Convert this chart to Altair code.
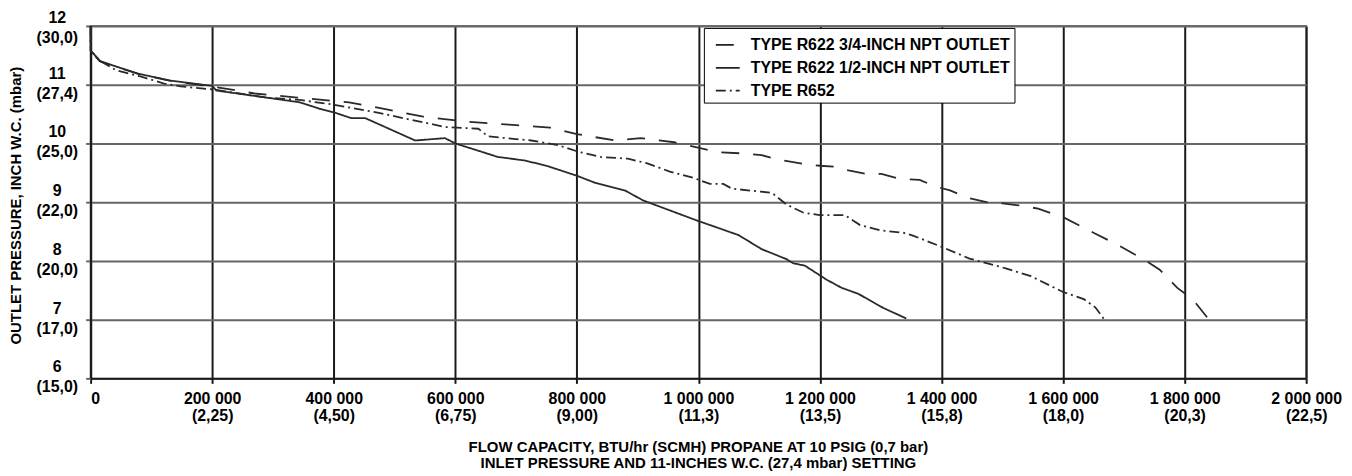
import json
import altair as alt
import pandas as pd

series_names = [
    "TYPE R622 3/4-INCH NPT OUTLET",
    "TYPE R622 1/2-INCH NPT OUTLET",
    "TYPE R652",
]

# TYPE R622 3/4-INCH NPT OUTLET (long dashed)
r622_34_x = [0, 0, 15000, 40000, 80000, 130000, 200000, 270000, 340000, 425000,
             487000, 545000, 618000, 688000, 756000, 800000, 822000, 864000, 905000,
             960000, 1003000, 1034000, 1072000, 1104000, 1134000, 1173000, 1200000,
             1227000, 1247000, 1277000, 1301000, 1331000, 1364000, 1389000, 1414000,
             1444000, 1474000, 1501000, 1531000, 1559000, 1601000, 1650000, 1694000,
             1732000, 1759000, 1788000, 1813000, 1837000]
r622_34_y = [12.0, 11.58, 11.40, 11.31, 11.18, 11.07, 10.97, 10.85, 10.78, 10.70,
             10.58, 10.46, 10.37, 10.32, 10.27, 10.16, 10.12, 10.05, 10.09,
             10.02, 9.92, 9.85, 9.83, 9.80, 9.72, 9.65, 9.62,
             9.60, 9.54, 9.48, 9.48, 9.40, 9.38, 9.27, 9.20,
             9.07, 9.00, 8.98, 8.94, 8.89, 8.74, 8.48, 8.25,
             8.03, 7.85, 7.54, 7.35, 7.04]

# TYPE R622 1/2-INCH NPT OUTLET (solid)
r622_12_x = [0, 0, 16000, 36000, 77000, 131000, 200000, 207000, 269000, 344000,
             377000, 400000, 429000, 452000, 534000, 583000, 600000, 670000, 714000,
             750000, 800000, 830000, 879000, 909000, 997000, 1066000, 1104000,
             1145000, 1156000, 1175000, 1211000, 1236000, 1263000, 1304000, 1342000]
r622_12_y = [12.0, 11.58, 11.40, 11.33, 11.19, 11.07, 10.98, 10.90, 10.81, 10.70,
             10.59, 10.53, 10.43, 10.43, 10.05, 10.09, 10.0, 9.77, 9.71,
             9.62, 9.45, 9.33, 9.20, 9.03, 8.69, 8.44, 8.20,
             8.03, 7.96, 7.92, 7.68, 7.54, 7.44, 7.20, 7.02]

# TYPE R652 (dash-dot)
r652_x = [0, 0, 16000, 41000, 82000, 121000, 148000, 200000, 290000, 344000,
          400000, 474000, 583000, 638000, 654000, 725000, 769000, 802000, 839000,
          884000, 916000, 953000, 993000, 1019000, 1041000, 1055000, 1121000,
          1145000, 1173000, 1200000, 1241000, 1266000, 1299000, 1337000, 1353000,
          1400000, 1446000, 1507000, 1547000, 1600000, 1634000, 1653000, 1668000]
r652_y = [12.0, 11.58, 11.40, 11.25, 11.14, 11.02, 10.97, 10.92, 10.78, 10.74,
          10.66, 10.52, 10.28, 10.25, 10.12, 10.05, 9.97, 9.86, 9.77,
          9.74, 9.66, 9.52, 9.41, 9.31, 9.31, 9.23, 9.16,
          8.96, 8.82, 8.78, 8.78, 8.61, 8.52, 8.48, 8.43,
          8.24, 8.04, 7.87, 7.74, 7.47, 7.35, 7.21, 7.0]

x_tick_values = [0, 200000, 400000, 600000, 800000, 1000000, 1200000, 1400000,
                 1600000, 1800000, 2000000]
x_tick_btu = ["0", "200 000", "400 000", "600 000", "800 000", "1 000 000",
              "1 200 000", "1 400 000", "1 600 000", "1 800 000", "2 000 000"]
x_tick_scmh = ["", "(2,25)", "(4,50)", "(6,75)", "(9,00)", "(11,3)", "(13,5)",
               "(15,8)", "(18,0)", "(20,3)", "(22,5)"]

y_tick_values = [6, 7, 8, 9, 10, 11, 12]
y_tick_inch = ["6", "7", "8", "9", "10", "11", "12"]
y_tick_mbar = ["(15,0)", "(17,0)", "(20,0)", "(22,0)", "(25,0)", "(27,4)", "(30,0)"]

x_title = ["FLOW CAPACITY, BTU/hr (SCMH) PROPANE AT 10 PSIG (0,7 bar)",
           "INLET PRESSURE AND 11-INCHES W.C. (27,4 mbar) SETTING"]
y_title = "OUTLET PRESSURE, INCH W.C. (mbar)"

rows = []
for name, xs, ys in [(series_names[0], r622_34_x, r622_34_y),
                     (series_names[1], r622_12_x, r622_12_y),
                     (series_names[2], r652_x, r652_y)]:
    for i, (xv, yv) in enumerate(zip(xs, ys)):
        rows.append({"series": name, "flow": xv, "pressure": yv, "idx": i})
df = pd.DataFrame(rows)

x_label_arr = [[a] if not b else [a, b] for a, b in zip(x_tick_btu, x_tick_scmh)]
y_label_arr = [[a, b] for a, b in zip(y_tick_inch, y_tick_mbar)]
x_label_expr = json.dumps(x_label_arr).replace('"', "'") + "[round(datum.value / 200000)]"
y_label_expr = json.dumps(y_label_arr).replace('"', "'") + "[round(datum.value) - 6]"

FONT = "Liberation Sans, Arial, Helvetica, sans-serif"

chart = alt.Chart(df).mark_line(strokeWidth=1.8, color="#2a2a2a").encode(
    x=alt.X(
        "flow:Q",
        scale=alt.Scale(domain=[0, 2000000], nice=False),
        axis=alt.Axis(
            values=x_tick_values,
            labelExpr=x_label_expr,
            grid=True, gridColor="#1a1a1a", gridWidth=2,
            domainColor="#1a1a1a", domainWidth=2,
            tickColor="#1a1a1a", tickWidth=2, tickSize=5,
            labelFont=FONT, labelFontSize=16, labelFontWeight="bold", labelColor="black",
            labelPadding=7, labelBaseline="top", labelLineHeight=17,
            labelAlign=alt.condition("datum.value == 0", alt.value("left"), alt.value("center")),
            labelFlush=False, labelOverlap=False,
            title=x_title, titleFont=FONT, titleFontSize=15, titleFontWeight="bold",
            titleColor="black", titleLineHeight=17, titleBaseline="top",
            titleY=61, titleX=610, titleAlign="center",
        ),
    ),
    y=alt.Y(
        "pressure:Q",
        scale=alt.Scale(domain=[6, 12], nice=False),
        axis=alt.Axis(
            values=y_tick_values,
            labelExpr=y_label_expr,
            grid=True, gridColor="#666666", gridWidth=2,
            domainColor="#1a1a1a", domainWidth=2,
            tickColor="#666666", tickWidth=2, tickSize=5,
            labelFont=FONT, labelFontSize=16, labelFontWeight="bold", labelColor="black",
            labelPadding=29, labelAlign="center", labelBaseline="middle",
            labelLineHeight=20,
            labelOffset=alt.condition("datum.value == 12", alt.value(-8.5), alt.value(-11.5)),
            labelFlush=False, labelOverlap=False,
            title=y_title, titleFont=FONT, titleFontSize=15, titleFontWeight="bold",
            titleColor="black", titleAngle=270, titleX=-75, titleY=180,
            titleAlign="center", titleBaseline="middle",
        ),
    ),
    strokeDash=alt.StrokeDash(
        "series:N",
        scale=alt.Scale(domain=series_names, range=[[18, 14], [1, 0], [10, 4, 2, 4]]),
        legend=alt.Legend(
            title=None, orient="none", legendX=616, legendY=2,
            strokeColor="black", fillColor="white", padding=4,
            symbolType="stroke", symbolSize=576, symbolStrokeWidth=1.8,
            symbolStrokeColor="#222222", symbolOffset=7,
            labelFont=FONT, labelFontSize=16, labelFontWeight="bold", labelColor="black",
            labelOffset=10, rowPadding=2, labelLimit=400,
        ),
    ),
    order=alt.Order("idx:Q"),
).properties(
    width=1221, height=354,
    autosize=alt.AutoSizeParams(type="none"),
    padding={"left": 83, "top": 17, "right": 38, "bottom": 92},
).configure_view(stroke="#777777", strokeWidth=2)

chart.save("out.html", embed_options={"renderer": "svg", "actions": False})
